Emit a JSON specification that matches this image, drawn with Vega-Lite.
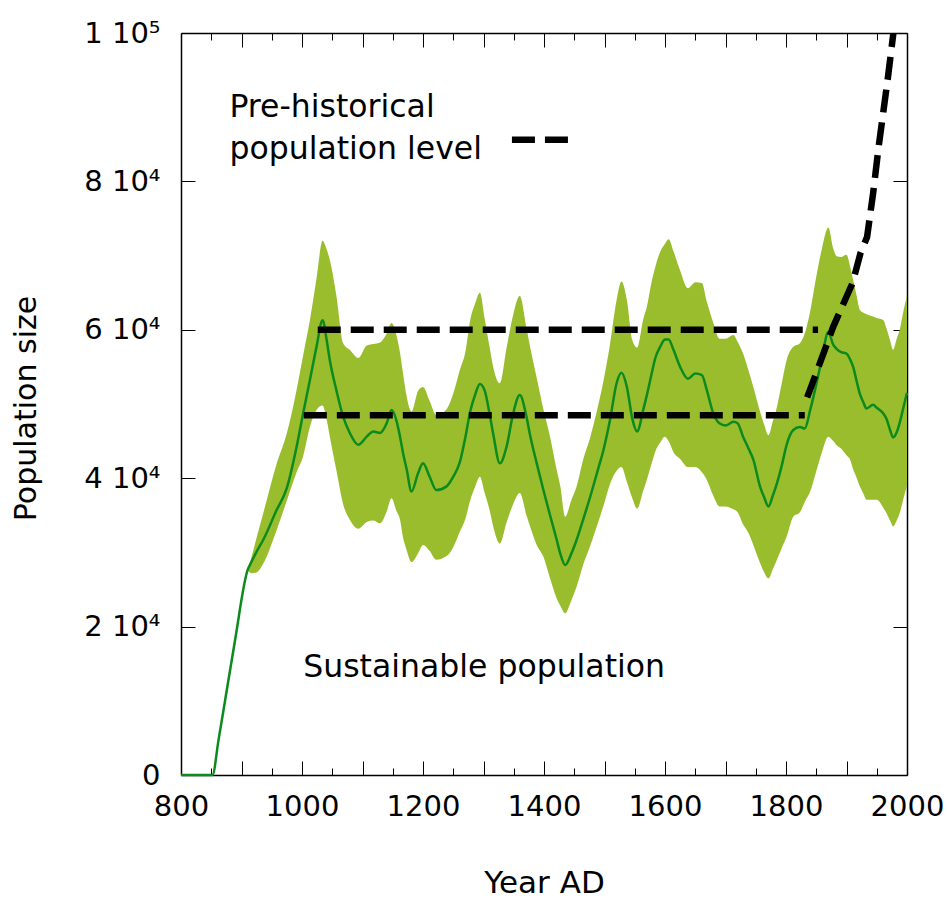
{
  "$schema": "https://vega.github.io/schema/vega-lite/v6.json",
  "width": 726,
  "height": 742,
  "autosize": "none",
  "padding": {"left": 181, "top": 33, "right": 40, "bottom": 125},
  "background": "#ffffff",
  "datasets": {
    "population": [
      {"year": 800, "mean": 0},
      {"year": 852, "mean": 0},
      {"year": 862, "mean": 4700},
      {"year": 873, "mean": 10100},
      {"year": 889, "mean": 18000},
      {"year": 910, "mean": 27600, "lo": 27600, "hi": 27600},
      {"year": 917, "mean": 28800, "lo": 27200, "hi": 29500},
      {"year": 925, "mean": 30100, "lo": 27300, "hi": 32000},
      {"year": 936, "mean": 31700, "lo": 28500, "hi": 35300},
      {"year": 958, "mean": 35700, "lo": 33000, "hi": 41900},
      {"year": 975, "mean": 38700, "lo": 37000, "hi": 46100},
      {"year": 991, "mean": 44200, "lo": 40800, "hi": 51900},
      {"year": 1002, "mean": 48800, "lo": 43000, "hi": 56600},
      {"year": 1013, "mean": 53200, "lo": 46900, "hi": 61300},
      {"year": 1024, "mean": 57700, "lo": 49200, "hi": 66900},
      {"year": 1034, "mean": 61300, "lo": 49800, "hi": 72000},
      {"year": 1041, "mean": 58500, "lo": 47800, "hi": 70800},
      {"year": 1046, "mean": 55900, "lo": 45600, "hi": 69400},
      {"year": 1057, "mean": 51800, "lo": 41000, "hi": 64500},
      {"year": 1068, "mean": 48300, "lo": 36500, "hi": 58200},
      {"year": 1079, "mean": 46100, "lo": 34400, "hi": 57300},
      {"year": 1093, "mean": 44500, "lo": 33200, "hi": 56200},
      {"year": 1107, "mean": 45600, "lo": 34100, "hi": 57900},
      {"year": 1118, "mean": 46300, "lo": 34300, "hi": 58100},
      {"year": 1129, "mean": 46100, "lo": 33900, "hi": 58300},
      {"year": 1140, "mean": 47400, "lo": 35500, "hi": 59500},
      {"year": 1148, "mean": 49200, "lo": 37300, "hi": 60900},
      {"year": 1156, "mean": 47800, "lo": 35600, "hi": 59300},
      {"year": 1162, "mean": 45600, "lo": 34400, "hi": 56900},
      {"year": 1167, "mean": 43400, "lo": 32000, "hi": 54100},
      {"year": 1173, "mean": 41200, "lo": 30300, "hi": 51000},
      {"year": 1181, "mean": 38200, "lo": 28700, "hi": 49000},
      {"year": 1192, "mean": 40700, "lo": 29900, "hi": 51800},
      {"year": 1200, "mean": 42000, "lo": 31000, "hi": 52300},
      {"year": 1211, "mean": 40200, "lo": 30200, "hi": 50400},
      {"year": 1222, "mean": 38400, "lo": 29000, "hi": 48500},
      {"year": 1239, "mean": 38900, "lo": 29500, "hi": 49300},
      {"year": 1250, "mean": 40200, "lo": 30700, "hi": 51400},
      {"year": 1261, "mean": 42200, "lo": 32800, "hi": 54600},
      {"year": 1270, "mean": 45500, "lo": 34500, "hi": 57000},
      {"year": 1278, "mean": 49000, "lo": 37000, "hi": 61300},
      {"year": 1286, "mean": 51200, "lo": 38800, "hi": 63500},
      {"year": 1294, "mean": 52700, "lo": 40200, "hi": 65000},
      {"year": 1302, "mean": 51800, "lo": 38000, "hi": 61500},
      {"year": 1310, "mean": 48700, "lo": 35700, "hi": 57700},
      {"year": 1316, "mean": 46000, "lo": 33500, "hi": 55000},
      {"year": 1327, "mean": 42000, "lo": 31200, "hi": 52800},
      {"year": 1338, "mean": 44200, "lo": 34000, "hi": 57500},
      {"year": 1349, "mean": 48700, "lo": 36500, "hi": 62000},
      {"year": 1360, "mean": 51200, "lo": 38000, "hi": 64600},
      {"year": 1371, "mean": 48300, "lo": 35000, "hi": 60300},
      {"year": 1377, "mean": 45800, "lo": 33500, "hi": 57700},
      {"year": 1388, "mean": 42000, "lo": 31000, "hi": 53500},
      {"year": 1399, "mean": 38400, "lo": 29400, "hi": 49300},
      {"year": 1410, "mean": 35000, "lo": 26500, "hi": 45600},
      {"year": 1421, "mean": 31700, "lo": 23800, "hi": 41100},
      {"year": 1427, "mean": 29800, "lo": 22800, "hi": 38900},
      {"year": 1435, "mean": 28300, "lo": 21800, "hi": 34800},
      {"year": 1445, "mean": 29800, "lo": 23500, "hi": 37000},
      {"year": 1454, "mean": 31700, "lo": 25400, "hi": 38900},
      {"year": 1465, "mean": 34500, "lo": 28400, "hi": 42600},
      {"year": 1476, "mean": 37400, "lo": 30800, "hi": 45400},
      {"year": 1490, "mean": 41400, "lo": 34200, "hi": 50000},
      {"year": 1498, "mean": 43700, "lo": 36200, "hi": 53000},
      {"year": 1509, "mean": 47800, "lo": 39200, "hi": 58000},
      {"year": 1520, "mean": 52800, "lo": 41000, "hi": 64000},
      {"year": 1528, "mean": 54200, "lo": 41500, "hi": 66500},
      {"year": 1537, "mean": 52300, "lo": 39500, "hi": 64000},
      {"year": 1546, "mean": 48000, "lo": 37300, "hi": 58600},
      {"year": 1554, "mean": 46300, "lo": 35900, "hi": 57600},
      {"year": 1564, "mean": 49200, "lo": 38300, "hi": 61400},
      {"year": 1570, "mean": 51200, "lo": 39800, "hi": 63100},
      {"year": 1578, "mean": 54100, "lo": 42000, "hi": 66500},
      {"year": 1584, "mean": 56200, "lo": 43600, "hi": 68500},
      {"year": 1592, "mean": 57700, "lo": 44800, "hi": 70500},
      {"year": 1600, "mean": 58700, "lo": 45600, "hi": 71600},
      {"year": 1606, "mean": 58700, "lo": 45000, "hi": 72200},
      {"year": 1614, "mean": 57300, "lo": 43500, "hi": 70600},
      {"year": 1625, "mean": 55000, "lo": 42600, "hi": 68000},
      {"year": 1638, "mean": 53400, "lo": 41500, "hi": 65600},
      {"year": 1650, "mean": 54100, "lo": 41500, "hi": 66400},
      {"year": 1661, "mean": 53900, "lo": 40800, "hi": 66300},
      {"year": 1669, "mean": 51900, "lo": 39800, "hi": 63800},
      {"year": 1680, "mean": 48700, "lo": 37600, "hi": 60900},
      {"year": 1690, "mean": 47400, "lo": 36200, "hi": 58800},
      {"year": 1700, "mean": 47100, "lo": 36200, "hi": 58800},
      {"year": 1713, "mean": 47600, "lo": 35800, "hi": 59300},
      {"year": 1720, "mean": 47400, "lo": 35400, "hi": 58400},
      {"year": 1729, "mean": 45600, "lo": 33800, "hi": 56800},
      {"year": 1738, "mean": 44000, "lo": 32600, "hi": 54500},
      {"year": 1746, "mean": 42500, "lo": 31000, "hi": 52300},
      {"year": 1757, "mean": 38900, "lo": 28600, "hi": 49000},
      {"year": 1764, "mean": 37400, "lo": 27300, "hi": 47200},
      {"year": 1771, "mean": 36200, "lo": 26500, "hi": 45800},
      {"year": 1778, "mean": 37600, "lo": 27700, "hi": 47600},
      {"year": 1785, "mean": 39300, "lo": 29000, "hi": 49600},
      {"year": 1793, "mean": 41700, "lo": 30600, "hi": 52800},
      {"year": 1801, "mean": 44500, "lo": 32100, "hi": 55900},
      {"year": 1812, "mean": 46500, "lo": 34800, "hi": 57700},
      {"year": 1823, "mean": 46900, "lo": 35400, "hi": 58200},
      {"year": 1831, "mean": 46700, "lo": 36800, "hi": 59500},
      {"year": 1840, "mean": 49200, "lo": 38200, "hi": 62500},
      {"year": 1851, "mean": 53000, "lo": 41200, "hi": 67600},
      {"year": 1859, "mean": 56000, "lo": 43400, "hi": 70800},
      {"year": 1870, "mean": 59700, "lo": 45600, "hi": 73800},
      {"year": 1878, "mean": 58000, "lo": 45000, "hi": 71000},
      {"year": 1884, "mean": 57400, "lo": 44400, "hi": 69900},
      {"year": 1891, "mean": 57000, "lo": 44000, "hi": 69800},
      {"year": 1900, "mean": 56800, "lo": 43100, "hi": 70100},
      {"year": 1906, "mean": 56000, "lo": 42500, "hi": 68500},
      {"year": 1911, "mean": 55000, "lo": 41200, "hi": 66700},
      {"year": 1917, "mean": 53000, "lo": 40000, "hi": 64500},
      {"year": 1922, "mean": 51400, "lo": 38900, "hi": 62700},
      {"year": 1928, "mean": 50200, "lo": 37900, "hi": 62300},
      {"year": 1933, "mean": 49400, "lo": 37100, "hi": 62100},
      {"year": 1944, "mean": 49900, "lo": 37100, "hi": 61800},
      {"year": 1950, "mean": 49500, "lo": 37100, "hi": 61600},
      {"year": 1961, "mean": 48700, "lo": 36000, "hi": 61300},
      {"year": 1966, "mean": 48000, "lo": 35300, "hi": 60200},
      {"year": 1972, "mean": 46500, "lo": 34300, "hi": 58600},
      {"year": 1977, "mean": 45500, "lo": 33500, "hi": 57300},
      {"year": 1983, "mean": 46200, "lo": 34300, "hi": 58800},
      {"year": 1988, "mean": 47500, "lo": 35300, "hi": 60000},
      {"year": 1994, "mean": 49500, "lo": 37200, "hi": 62500},
      {"year": 2000, "mean": 51500, "lo": 39000, "hi": 64600}
    ],
    "levels": [
      {"series": "upper", "year": 1026, "pop": 60000},
      {"series": "upper", "year": 1853, "pop": 60000},
      {"series": "lower", "year": 1003, "pop": 48500},
      {"series": "lower", "year": 1831, "pop": 48500},
      {"series": "growth", "year": 1835, "pop": 50900},
      {"series": "growth", "year": 1856, "pop": 55500},
      {"series": "growth", "year": 1878, "pop": 60400},
      {"series": "growth", "year": 1910, "pop": 66300},
      {"series": "growth", "year": 1923, "pop": 70300},
      {"series": "growth", "year": 1934, "pop": 72500},
      {"series": "growth", "year": 1944, "pop": 78400},
      {"series": "growth", "year": 1953, "pop": 84600},
      {"series": "growth", "year": 1968, "pop": 93700},
      {"series": "growth", "year": 1977.5, "pop": 100000},
      {"series": "key", "year": 1347, "pop": 85600},
      {"series": "key", "year": 1440, "pop": 85600}
    ],
    "notes": [
      {"year": 880, "pop": 88700, "label": "Pre-historical\npopulation level"},
      {"year": 1002, "pop": 13250, "label": "Sustainable population"}
    ]
  },
  "layer": [
    {
      "data": {"name": "population"},
      "mark": {"type": "area", "color": "#9abd2e", "opacity": 1, "interpolate": "monotone"},
      "encoding": {
        "x": {
          "field": "year", "type": "quantitative",
          "scale": {"domain": [800, 2000], "nice": false, "zero": false},
          "axis": {
            "orient": "bottom",
            "values": [800, 850, 900, 950, 1000, 1050, 1100, 1150, 1200, 1250, 1300, 1350, 1400, 1450, 1500, 1550, 1600, 1650, 1700, 1750, 1800, 1850, 1900, 1950, 2000],
            "format": "d",
            "labelExpr": "datum.value % 200 === 0 ? datum.label : ''",
            "tickSize": {"condition": {"test": "datum.value % 100 === 0", "value": -14}, "value": -7},
            "labelBaseline": "alphabetic",
            "labelPadding": 54,
            "labelFlush": false,
            "labelOverlap": false,
            "title": "Year AD",
            "titleFontSize": 31,
            "titleBaseline": "alphabetic",
            "titleX": 363,
            "titleY": 117
          }
        },
        "y": {
          "field": "lo", "type": "quantitative",
          "scale": {"domain": [0, 100000], "nice": false},
          "axis": {
            "orient": "left",
            "values": [0, 20000, 40000, 60000, 80000, 100000],
            "labelExpr": "datum.value == 0 ? '0' : (datum.value == 100000 ? '1 10⁵' : format(datum.value / 10000, 'd') + ' 10⁴')",
            "tickSize": -14,
            "labelPadding": 35,
            "labelFlush": false,
            "labelOverlap": false,
            "title": "Population size",
            "titleFontSize": 30,
            "titleAngle": -90,
            "titleAlign": "center",
            "titleBaseline": "alphabetic",
            "titleX": -146,
            "titleY": 375
          }
        },
        "y2": {"field": "hi"}
      }
    },
    {
      "data": {"name": "population"},
      "mark": {"type": "line", "color": "#0b8a1e", "strokeWidth": 2.5, "interpolate": "monotone"},
      "encoding": {
        "x": {
          "field": "year", "type": "quantitative",
          "scale": {"domain": [800, 2000], "nice": false, "zero": false},
          "axis": {
            "orient": "top",
            "values": [800, 850, 900, 950, 1000, 1050, 1100, 1150, 1200, 1250, 1300, 1350, 1400, 1450, 1500, 1550, 1600, 1650, 1700, 1750, 1800, 1850, 1900, 1950, 2000],
            "tickSize": {"condition": {"test": "datum.value % 100 === 0", "value": -14}, "value": -7},
            "labels": false,
            "title": null
          }
        },
        "y": {
          "field": "mean", "type": "quantitative",
          "scale": {"domain": [0, 100000], "nice": false},
          "axis": {
            "orient": "right",
            "values": [0, 20000, 40000, 60000, 80000, 100000],
            "tickSize": -14,
            "labels": false,
            "title": null
          }
        }
      }
    },
    {
      "data": {"name": "levels"},
      "mark": {"type": "line", "color": "#000000", "strokeWidth": 6.5, "strokeDash": [23, 10], "strokeCap": "butt", "clip": true},
      "encoding": {
        "x": {"field": "year", "type": "quantitative", "scale": {"domain": [800, 2000], "nice": false, "zero": false}, "axis": null},
        "y": {"field": "pop", "type": "quantitative", "scale": {"domain": [0, 100000], "nice": false}, "axis": null},
        "detail": {"field": "series", "type": "nominal"}
      }
    },
    {
      "data": {"name": "notes"},
      "mark": {"type": "text", "align": "left", "baseline": "alphabetic", "font": "DejaVu Sans", "fontSize": 31.5, "color": "#000000", "lineBreak": "\n", "lineHeight": 42},
      "encoding": {
        "x": {"field": "year", "type": "quantitative", "scale": {"domain": [800, 2000], "nice": false, "zero": false}, "axis": null},
        "y": {"field": "pop", "type": "quantitative", "scale": {"domain": [0, 100000], "nice": false}, "axis": null},
        "text": {"field": "label", "type": "nominal"}
      }
    }
  ],
  "resolve": {"axis": {"x": "independent", "y": "independent"}},
  "config": {
    "view": {"stroke": null},
    "axis": {
      "grid": false,
      "zindex": 1,
      "domainColor": "#000000",
      "domainWidth": 1.5,
      "tickColor": "#000000",
      "tickWidth": 1,
      "labelFont": "DejaVu Sans",
      "labelFontSize": 29,
      "labelColor": "#000000",
      "titleFont": "DejaVu Sans",
      "titleFontWeight": "normal",
      "titleColor": "#000000"
    }
  }
}
